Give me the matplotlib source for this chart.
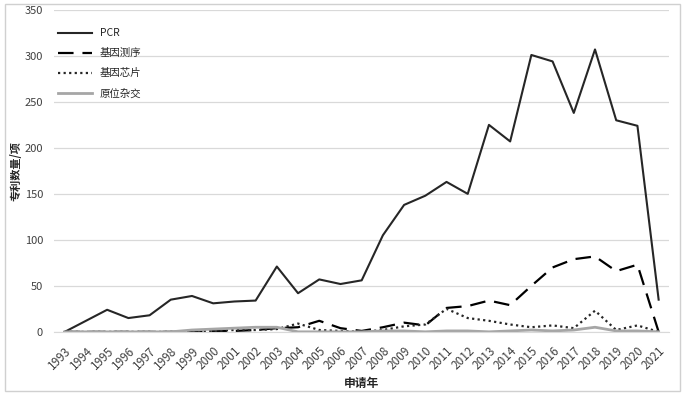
import numpy as np
import matplotlib
matplotlib.use('Agg')
import matplotlib.pyplot as plt
from matplotlib.patches import Rectangle

plt.rcParams['font.family'] = ['Noto Sans CJK SC', 'DejaVu Sans']

# Data
years = [str(y) for y in range(1993, 2022)]
pcr = [0, 12, 24, 15, 18, 35, 39, 31, 33, 34, 71, 42, 57, 52, 56, 105, 138,
       148, 163, 150, 225, 207, 301, 294, 238, 307, 230, 224, 35]
sequencing = [0, 0, 0, 0, 0, 0, 0, 1, 1, 2, 4, 5, 12, 4, 1, 5, 10, 7, 26, 28,
              34, 29, 50, 70, 79, 82, 66, 73, 0]
chip = [0, 0, 0, 0, 0, 0, 0, 1, 2, 2, 3, 9, 2, 1, 0, 2, 6, 8, 25, 15, 12, 8,
        5, 7, 4, 23, 2, 7, 0]
in_situ = [0, 0, 0, 0, 0, 0, 2, 3, 4, 5, 5, 0, 0, 0, 0, 1, 1, 0, 1, 1, 0, 1,
           2, 1, 2, 5, 1, 1, 0]

fig = plt.figure(figsize=(6.85, 3.96), dpi=100)
ax = fig.add_axes([0.079, 0.162, 0.898, 0.813])

x = np.arange(len(years))
ax.plot(x, pcr, color='#262626', lw=1.5, label='PCR')
ax.plot(x, sequencing, color='black', lw=1.6, dashes=(7, 4), label='基因测序')
ax.plot(x, chip, color='#262626', lw=1.6, linestyle=(0, (1, 1.5)), label='基因芯片')
ax.plot(x, in_situ, color='#a6a6a6', lw=2, label='原位杂交')

ax.set_xlim(-0.5, len(years) - 0.5)
ax.set_ylim(0, 350)
ax.set_yticks(range(0, 351, 50))
ax.set_xticks(x)
ax.set_xticklabels(years, rotation=45, fontsize=8.5, color='#404040',
                   ha='right', va='top', rotation_mode='anchor')
ax.tick_params(axis='y', length=0, labelsize=8, labelcolor='#404040', pad=8)
ax.tick_params(axis='x', length=0, pad=9)
ax.grid(axis='y', color='#d9d9d9', lw=0.9)
ax.set_axisbelow(True)
for s in ['top', 'right', 'left']:
    ax.spines[s].set_visible(False)
ax.spines['bottom'].set_color('#d9d9d9')

ax.set_ylabel('专利数量/项', fontsize=8, fontweight='bold', color='#262626')
ax.yaxis.set_label_coords(-0.052, 0.5)
ax.set_xlabel('申请年', fontsize=8.5, fontweight='bold', color='#262626')
ax.xaxis.set_label_coords(0.5, -0.14)

leg = ax.legend(loc='upper left', bbox_to_anchor=(-0.005, 0.965), frameon=False,
                fontsize=7.5, handlelength=3.2, labelspacing=0.95, borderaxespad=0.3)
for t in leg.get_texts():
    t.set_color('#262626')

fig.patches.append(Rectangle((0.007, 0.013), 0.986, 0.978, transform=fig.transFigure,
                             fill=False, edgecolor='#d0d0d0', lw=1))

fig.savefig('out.png', dpi=100)
